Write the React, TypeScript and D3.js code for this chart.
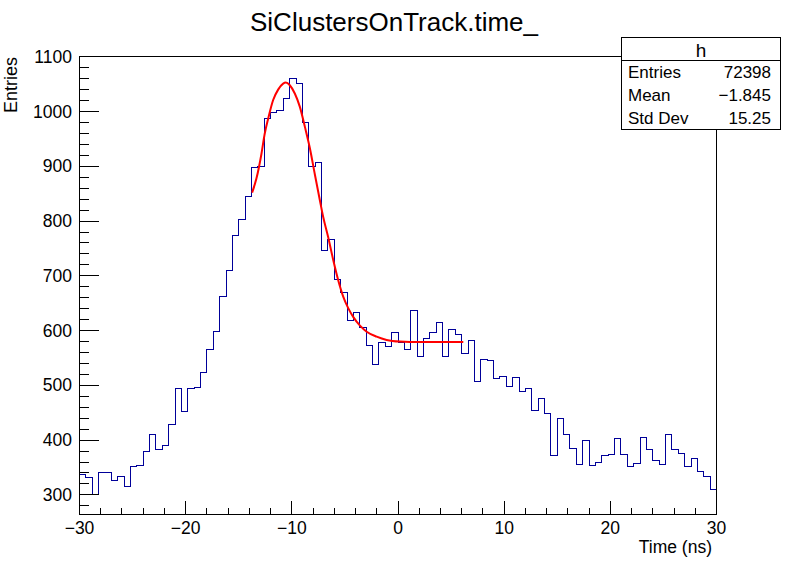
import React from "react";
import * as d3 from "d3";

const xMin = -30;
const xMax = 30;
const yMin = 264.2;
const yMax = 1100.5;

const binCounts = [
  338, 332, 301, 340, 341, 327, 334, 316, 352, 354,
  380, 411, 383, 391, 428, 495, 453, 495, 497, 524,
  566, 599, 663, 710, 774, 803, 845, 898, 900, 987,
  999, 1001, 1024, 1060, 1051, 980, 900, 907, 747, 767,
  694, 670, 619, 633, 606, 573, 538, 579, 571, 597,
  579, 566, 637, 553, 586, 597, 615, 553, 602, 593,
  559, 582, 507, 548, 546, 513, 517, 498, 515, 489,
  495, 455, 476, 449, 372, 440, 411, 385, 356, 400,
  354, 360, 372, 374, 403, 374, 351, 358, 405, 382,
  363, 356, 411, 383, 376, 352, 367, 343, 334, 309,
];

const fitX = [
  -13.74, -13.33, -12.86, -12.55, -12.23, -11.76, -11.29, -10.82, -10.57, -10.19,
  -9.72, -9.25, -8.77, -8.3, -7.83, -7.36, -7.05, -6.58, -6.1, -5.63,
  -5.16, -4.69, -4.22, -3.58, -2.95, -2.01, -1.07, 0.19, 2.08, 6.15,
];
const fitY = [
  852, 878, 923, 960, 987, 1021, 1040, 1051, 1053, 1048,
  1033, 1009, 972, 933, 885, 838, 808, 771, 729, 692,
  662, 641, 625, 609, 598, 589, 583, 580, 579, 579,
];

const xTicks = [-30, -20, -10, 0, 10, 20, 30];
const xMinorTicks = d3.range(-30, 30.001, 2);
const yTicks = [300, 400, 500, 600, 700, 800, 900, 1000, 1100];
const yMinorTicks = d3.range(280, 1100.001, 20);

const titleText = "SiClustersOnTrack.time_";
const xTitle = "Time (ns)";
const yTitle = "Entries";
const statsName = "h";
const statsLabels = ["Entries", "Mean", "Std Dev"];
const statsValues = ["72398", "\u22121.845", "15.25"];

const fmt = (v: number) => (v < 0 ? "\u2212" + Math.abs(v) : String(v));

export default function App() {
  const W = 796;
  const H = 572;
  const left = 79.5;
  const right = 716.5;
  const top = 56.5;
  const bottom = 514.5;
  const font = "'Liberation Sans', Arial, Helvetica, sans-serif";

  const x = d3.scaleLinear().domain([xMin, xMax]).range([left, right]);
  const y = d3.scaleLinear().domain([yMin, yMax]).range([bottom, top]);
  const binW = (xMax - xMin) / binCounts.length;

  let hist = `M${x(xMin)},${y(yMin)}`;
  binCounts.forEach((c, i) => {
    const x0 = x(xMin + i * binW);
    const x1 = x(xMin + (i + 1) * binW);
    hist += `L${x0},${y(c)}L${x1},${y(c)}`;
  });
  hist += `L${x(xMax)},${y(yMin)}`;

  const fitLine = d3
    .line<number>()
    .x((_, i) => x(fitX[i]))
    .y((v) => y(v))
    .curve(d3.curveMonotoneX)(fitY);

  const bx0 = 621.5;
  const bx1 = 780.5;
  const by0 = 37.5;
  const rowH = 23;

  return (
    <svg
      width={W}
      height={H}
      style={{ position: "absolute", left: 0, top: 0, background: "#fff" }}
      fontFamily={font}
    >
      <rect x={0} y={0} width={W} height={H} fill="#fff" />
      <text x={W / 2 - 4} y={31} textAnchor="middle" fontSize={26} fill="#000">
        {titleText}
      </text>

      <path d={hist} fill="none" stroke="#000099" strokeWidth={1} shapeRendering="crispEdges" />
      {fitLine && <path d={fitLine} fill="none" stroke="#ff0000" strokeWidth={2} />}

      <rect
        x={left}
        y={top}
        width={right - left}
        height={bottom - top}
        fill="none"
        stroke="#000"
        strokeWidth={1}
        shapeRendering="crispEdges"
      />

      {xMinorTicks.map((t) => (
        <line
          key={"xm" + t}
          x1={x(t)}
          x2={x(t)}
          y1={bottom}
          y2={bottom - (xTicks.includes(t) ? 14 : 7)}
          stroke="#000"
          shapeRendering="crispEdges"
        />
      ))}
      {xTicks.map((t) => (
        <text key={"xl" + t} x={x(t)} y={534} textAnchor="middle" fontSize={17.5} fill="#000">
          {fmt(t)}
        </text>
      ))}

      {yMinorTicks.map((t) => (
        <line
          key={"ym" + t}
          x1={left}
          x2={left + (yTicks.includes(t) ? 19 : 9.5)}
          y1={y(t)}
          y2={y(t)}
          stroke="#000"
          shapeRendering="crispEdges"
        />
      ))}
      {yTicks.map((t) => (
        <text key={"yl" + t} x={72} y={y(t) + 6} textAnchor="end" fontSize={17.5} fill="#000">
          {fmt(t)}
        </text>
      ))}

      <text x={712} y={553} textAnchor="end" fontSize={17.5} fill="#000">
        {xTitle}
      </text>
      <text
        transform={`translate(17,57) rotate(-90)`}
        textAnchor="end"
        fontSize={18}
        fill="#000"
      >
        {yTitle}
      </text>

      <rect
        x={bx0}
        y={by0}
        width={bx1 - bx0}
        height={rowH * 4}
        fill="#fff"
        stroke="#000"
        strokeWidth={1}
        shapeRendering="crispEdges"
      />
      <line x1={bx0} x2={bx1} y1={by0 + rowH} y2={by0 + rowH} stroke="#000" shapeRendering="crispEdges" />
      <text x={(bx0 + bx1) / 2} y={by0 + 19} textAnchor="middle" fontSize={19} fill="#000">
        {statsName}
      </text>
      {statsLabels.map((l, i) => (
        <g key={l}>
          <text x={628} y={by0 + rowH * (i + 1) + 17} fontSize={17} fill="#000">
            {l}
          </text>
          <text x={771} y={by0 + rowH * (i + 1) + 17} textAnchor="end" fontSize={17} fill="#000">
            {statsValues[i]}
          </text>
        </g>
      ))}
    </svg>
  );
}
